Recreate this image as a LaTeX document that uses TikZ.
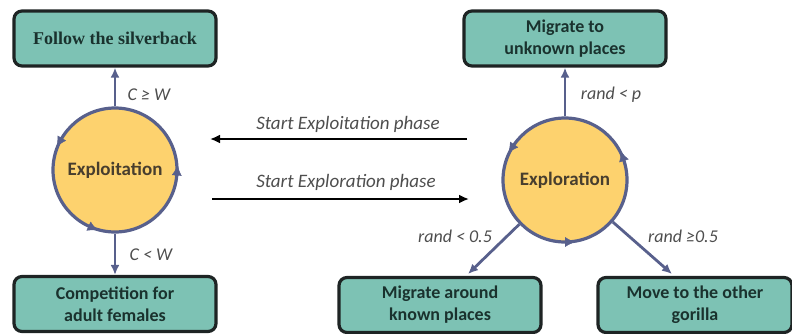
\documentclass[tikz,border=0pt]{standalone}
\usepackage{fontspec}
\setmainfont{Carlito}
\newfontfamily\serifbf{Liberation Serif}
\usetikzlibrary{arrows.meta,decorations.markings}
\definecolor{tealfill}{RGB}{125,194,180}
\definecolor{boxline}{RGB}{30,36,36}
\definecolor{boxtext}{RGB}{26,50,46}
\definecolor{sunfill}{RGB}{253,210,110}
\definecolor{slate}{RGB}{88,96,140}
\definecolor{circtext}{RGB}{72,62,46}
\definecolor{lbl}{RGB}{78,78,78}
\newcommand{\cyctip}{\arrow[slate]{Latex[length=10pt,width=10pt,reversed]}}
\tikzset{
  actbox/.style={draw=boxline, line width=3.2pt, rounded corners=8pt, fill=tealfill,
     minimum width=202pt, minimum height=55pt, align=center, text=boxtext,
     font=\fontsize{18}{22}\selectfont\bfseries, inner sep=0pt},
  phase/.style={circle, draw=slate, line width=3.2pt, fill=sunfill, minimum size=124pt,
     inner sep=0pt, text=circtext, font=\fontsize{19}{21}\selectfont\bfseries},
  sarrow/.style={draw=slate, line width=2.8pt, -{Latex[length=10pt,width=9pt]}},
  karrow/.style={draw=black, line width=2.6pt, -{Latex[length=10pt,width=9pt]}},
  cond/.style={text=lbl, font=\fontsize{18}{20}\selectfont\itshape, inner sep=1pt},
  phlbl/.style={text=lbl, font=\fontsize{19}{21}\selectfont\itshape, inner sep=1pt},
}
\begin{document}
\begin{tikzpicture}[x=1pt,y=-1pt]
\useasboundingbox (0,0) rectangle (792,333);
% boxes
\node[actbox, font=\fontsize{18}{20}\selectfont\serifbf\bfseries] (follow) at (115,38.5) {Follow the silverback};
\node[actbox] (compete) at (115,304) {Competition for\\adult females};
\node[actbox] (unknown) at (565,38.5) {Migrate to\\unknown places};
\node[actbox] (known) at (440,305) {Migrate around\\known places};
\node[actbox, minimum width=194pt] (gorilla) at (695,305) {Move to the other\\gorilla};
% circles
\node[phase] (exploit) at (115,170) {Exploitation};
\node[phase] (explore) at (565,180) {Exploration};
% cycle arrowheads
\path[decoration={markings,
   mark=at position 0.014 with {\cyctip},
   mark=at position 0.32 with {\cyctip},
   mark=at position 0.586 with {\cyctip}},
   postaction={decorate}] (exploit.center) circle (62);
\path[decoration={markings,
   mark=at position 0.25 with {\cyctip},
   mark=at position 0.597 with {\cyctip},
   mark=at position 0.95 with {\cyctip}},
   postaction={decorate}] (explore.center) circle (62);
% vertical arrows
\draw[sarrow] (exploit) -- (follow);
\draw[sarrow] (exploit) -- (compete);
\draw[sarrow] (explore) -- (unknown);
\node[cond] (c1) at (149,95) {C ≥ W};
\node[cond] (c2) at (151,255) {C < W};
\node[cond] (c3) at (611,95) {rand < p};
\coordinate (kn) at (468,274);
\coordinate (go) at (672,274);
\draw[sarrow] (explore) -- (kn);
\draw[sarrow] (explore) -- (go);
\node[cond] (l1) at (455,236) {rand < 0.5};
\node[cond] (l2) at (683,236) {rand ≥0.5};
% phase arrows
\coordinate (a1) at (467,139);
\coordinate (a2) at (210,139);
\coordinate (b1) at (212,199);
\coordinate (b2) at (469,199);
\draw[karrow] (a1) -- (a2);
\draw[karrow] (b1) -- (b2);
\node[phlbl] (p1) at (348,124) {Start Exploitation phase};
\node[phlbl] (p2) at (346,182) {Start Exploration phase};
\end{tikzpicture}
\end{document}
